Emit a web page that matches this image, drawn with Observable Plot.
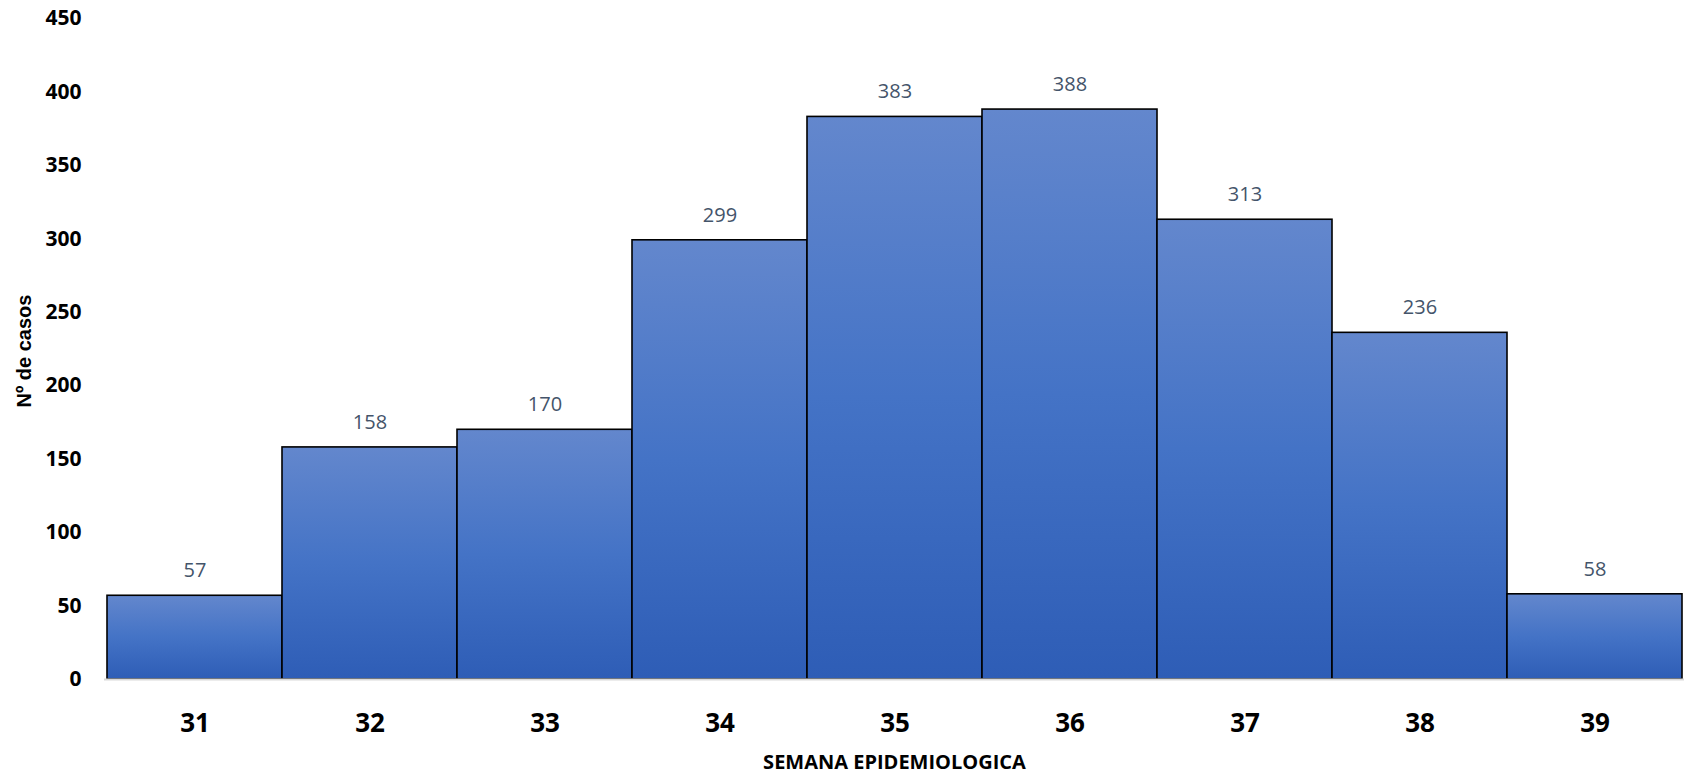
<!DOCTYPE html>
<html>
<head>
<meta charset="utf-8">
<script src="https://cdn.jsdelivr.net/npm/d3@7"></script>
<script src="https://cdn.jsdelivr.net/npm/@observablehq/plot@0.6"></script>
<style>
  html, body { margin: 0; padding: 0; background: #fff; }
  body { font-family: "Open Sans", sans-serif; }
</style>
</head>
<body>
<div id="chart"></div>
<script>
const weeks = ["31", "32", "33", "34", "35", "36", "37", "38", "39"];
const cases = [57, 158, 170, 299, 383, 388, 313, 236, 58];
const yTicks = [0, 50, 100, 150, 200, 250, 300, 350, 400, 450];
const xTitle = "SEMANA EPIDEMIOLOGICA";
const yTitle = "Nº de casos";

const data = weeks.map((w, i) => ({week: w, value: cases[i]}));

const chart = Plot.plot({
  width: 1689,
  height: 776,
  marginTop: 18,
  marginBottom: 97,
  marginLeft: 104,
  marginRight: 5,
  style: {fontFamily: "'Open Sans', sans-serif", background: "#fff"},
  x: {type: "band", domain: weeks, padding: 0, label: null},
  y: {domain: [0, 450], label: null},
  marks: [
    Plot.barY(data, {x: "week", y: "value", fill: "url(#barGrad)", stroke: "#000", strokeWidth: 1.6}),
    Plot.ruleY([0], {stroke: "#d9d9d9", strokeWidth: 2}),
    Plot.text(data, {x: "week", y: "value", text: d => String(d.value), dy: -25, fill: "#44546A", fontSize: 20}),
    Plot.axisX({tickSize: 0, tickPadding: 34, fontSize: 26, fontWeight: "bold", label: null}),
    Plot.axisY({ticks: yTicks, tickSize: 0, tickPadding: 23, fontSize: 21, fontWeight: "bold", label: null}),
    Plot.text([xTitle], {frameAnchor: "bottom", lineAnchor: "middle", textAnchor: "middle", dy: 83, fontSize: 20, fontWeight: "bold", fill: "#000"}),
    Plot.text([yTitle], {frameAnchor: "left", lineAnchor: "middle", textAnchor: "middle", dx: -80, dy: 2, rotate: -90, fontSize: 20, fontWeight: "bold", fontFamily: "'Liberation Sans', 'Open Sans', sans-serif", fill: "#000"})
  ]
});

const svg = d3.select(chart);
const defs = svg.insert("defs", ":first-child");
const grad = defs.append("linearGradient")
  .attr("id", "barGrad")
  .attr("x1", 0).attr("y1", 0).attr("x2", 0).attr("y2", 1);
grad.append("stop").attr("offset", "0%").attr("stop-color", "#6387cd");
grad.append("stop").attr("offset", "50%").attr("stop-color", "#4473c6");
grad.append("stop").attr("offset", "100%").attr("stop-color", "#2e5db6");

document.getElementById("chart").appendChild(chart);
</script>
</body>
</html>
